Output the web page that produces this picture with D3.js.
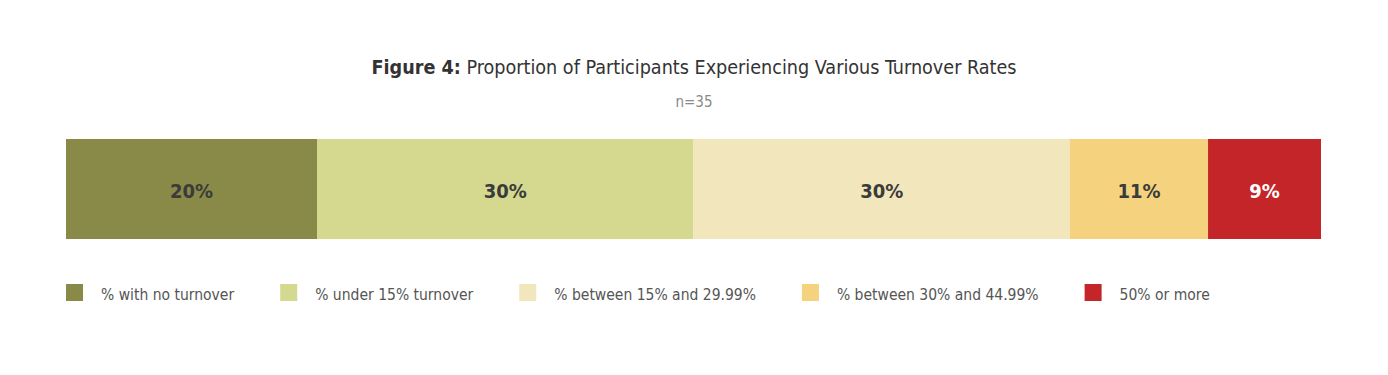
<!DOCTYPE html>
<html>
<head>
<meta charset="utf-8">
<script src="https://cdn.jsdelivr.net/npm/d3@7"></script>
<style>
  body { margin: 0; background: #fff; }
  svg text { font-family: "Liberation Sans Narrow", "DejaVu Sans Condensed", sans-serif; }
</style>
</head>
<body>
<div id="chart"></div>
<script>
// data
const categories = ["% with no turnover", "% under 15% turnover", "% between 15% and 29.99%", "% between 30% and 44.99%", "50% or more"]
const values = [20, 30, 30, 11, 9]
const colors = ["#8a8a48", "#d4d98f", "#f2e6bc", "#f5d27e", "#c32528"]
const labelColors = ["#3b3b3b", "#3b3b3b", "#3b3b3b", "#3b3b3b", "#ffffff"]

const width = 1388, height = 375
const margin = {left: 66, right: 67}

const svg = d3.select("#chart").append("svg")
  .attr("width", width)
  .attr("height", height)

// title
const title = svg.append("text")
  .attr("x", width / 2)
  .attr("y", 74)
  .attr("text-anchor", "middle")
  .attr("fill", "#333")
  .style("font-size", "19.6px")
title.append("tspan").attr("font-weight", "bold").text("Figure 4:")
title.append("tspan").text(" Proportion of Participants Experiencing Various Turnover Rates")

svg.append("text")
  .attr("x", width / 2)
  .attr("y", 107)
  .attr("text-anchor", "middle")
  .attr("fill", "#8a8a8a")
  .style("font-size", "15px")
  .text("n=35")

// stacked bar
const starts = d3.cumsum([0].concat(values.slice(0, -1)))
const x = d3.scaleLinear()
  .domain([0, d3.sum(values)])
  .range([margin.left, width - margin.right])

const barTop = 139, barH = 100

const seg = svg.selectAll("g.seg")
  .data(values)
  .join("g")
  .attr("class", "seg")

seg.append("rect")
  .attr("x", (d, i) => x(starts[i]))
  .attr("y", barTop)
  .attr("width", (d, i) => x(starts[i] + d) - x(starts[i]))
  .attr("height", barH)
  .attr("fill", (d, i) => colors[i])

seg.append("text")
  .attr("x", (d, i) => x(starts[i] + d / 2))
  .attr("y", barTop + barH / 2 + 2)
  .attr("dy", "0.35em")
  .attr("text-anchor", "middle")
  .attr("font-weight", "bold")
  .attr("fill", (d, i) => labelColors[i])
  .style("font-size", "20px")
  .text(d => d + "%")

// legend
const legend = svg.append("g").attr("transform", "translate(" + margin.left + ",284)")
let lx = 0
categories.forEach((c, i) => {
  const g = legend.append("g").attr("transform", "translate(" + lx + ",0)")
  g.append("rect")
    .attr("width", 17)
    .attr("height", 17)
    .attr("fill", colors[i])
  const t = g.append("text")
    .attr("x", 35)
    .attr("y", 16)
    .attr("fill", "#555")
    .style("font-size", "15.5px")
    .text(c)
  lx += 35 + t.node().getComputedTextLength() + 46
})
</script>
</body>
</html>
